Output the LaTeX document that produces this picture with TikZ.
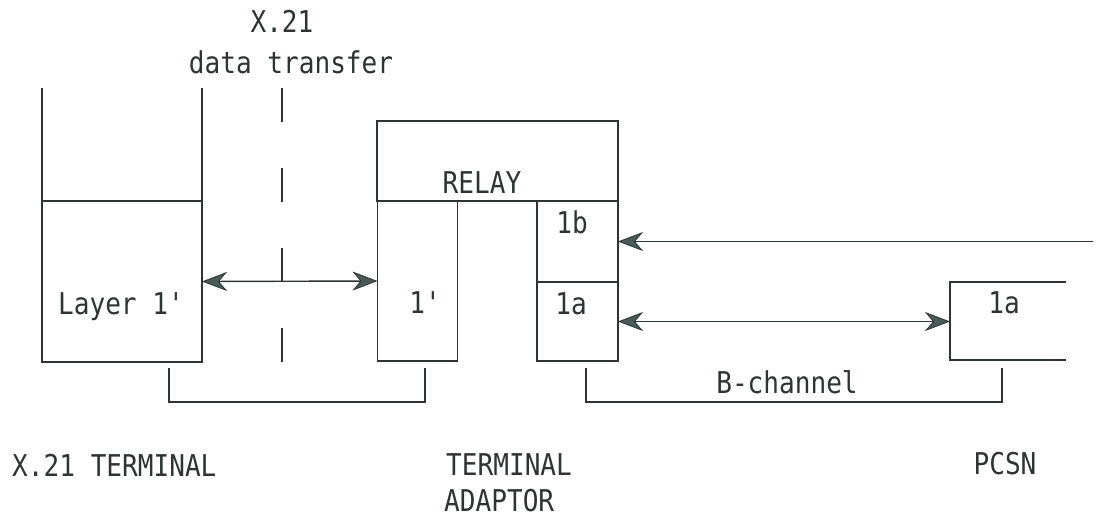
\documentclass[tikz,border=0pt]{standalone}
\usepackage{fontspec}
\setmonofont[FakeStretch=0.87]{DejaVu Sans Mono}
\usetikzlibrary{arrows.meta}

\definecolor{ink}{RGB}{45,52,50}
\definecolor{tipfill}{RGB}{74,90,86}

\tikzset{
  >={Stealth[length=25pt, width=19pt, inset=8pt, fill=tipfill, line width=0.8pt]},
  wire/.style={draw=ink, line width=1.8pt},
  blk/.style={wire, rectangle, inner sep=0pt, outer sep=0pt},
  lbl/.style={font=\ttfamily\fontsize{30}{36}\selectfont, text=ink, inner sep=0pt, text depth=0pt, anchor=base},
  biarrow/.style={draw=ink, line width=1.4pt, <->},
  onearrow/.style={draw=ink, line width=1.4pt, ->}
}

\begin{document}
\begin{tikzpicture}[x=1pt, y=-1pt]
\useasboundingbox (0,0) rectangle (1109,517);

% X.21 terminal: open at the top
\node[blk, minimum width=160pt, minimum height=161pt] (lyr) at (122,281.5) {};
\coordinate (lyr-tl) at (42,88);
\coordinate (lyr-tr) at (202,88);
\draw[wire] (lyr.north west) -- (lyr-tl);
\draw[wire] (lyr.north east) -- (lyr-tr);
\node[lbl] (lyrtxt) at (121,314) {Layer 1'};

% interface divider
\coordinate (dv-top) at (282,88);
\coordinate (dv-bot) at (282,362);
\draw[wire, line width=1.4pt, dash pattern=on 34pt off 46pt] (dv-top) -- (dv-bot);
\node[lbl] (x21) at (282,32) {X.21};
\node[lbl] (xfer) at (291,73) {data transfer};

% terminal adaptor
\node[blk, minimum width=241pt, minimum height=80pt] (relay) at (497.5,161) {};
\node[lbl] (relaytxt) at (482,193) {RELAY};
\node[blk, minimum width=80pt, minimum height=160pt] (ta1) at (417.5,281) {};
\node[lbl] (ta1txt) at (425,313) {1'};
\node[blk, minimum width=81pt, minimum height=81pt] (ta1b) at (577.5,241.5) {};
\node[lbl] (ta1btxt) at (572,233) {1b};
\node[blk, minimum width=81pt, minimum height=79pt] (ta1a) at (577.5,321.5) {};
\node[lbl] (ta1atxt) at (571,314) {1a};

% PCSN side: open to the right
\coordinate (pc-tr) at (1066,282);
\coordinate (pc-tl) at (950,282);
\coordinate (pc-bl) at (950,360);
\coordinate (pc-br) at (1066,360);
\coordinate (pc-in) at (950,321.5);
\draw[wire] (pc-tr) -- (pc-tl) -- (pc-bl) -- (pc-br);
\node[lbl] (pc1atxt) at (1004,313) {1a};
\coordinate (line-in) at (1093,241.5);

% flows
\draw[biarrow] (lyr.east) -- (ta1.west);
\draw[onearrow] (line-in) -- (ta1b.east);
\draw[biarrow] (ta1a.east) -- (pc-in);

% brackets
\coordinate (br1-l) at (169,368);
\coordinate (br1-r) at (425,368);
\coordinate (br2-l) at (586,368);
\coordinate (br2-r) at (1002,368);
\draw[wire] (br1-l) -- ++(0,34) -| (br1-r);
\draw[wire] (br2-l) -- ++(0,34) -| (br2-r);
\node[lbl] (bchan) at (787,393) {B-channel};

% equipment names
\node[lbl, anchor=base west] (term) at (12,476) {X.21 TERMINAL};
\node[lbl, anchor=base west] (tadapt1) at (446,475) {TERMINAL};
\node[lbl, anchor=base west] (tadapt2) at (444,511) {ADAPTOR};
\node[lbl] (pcsn) at (1005,474) {PCSN};
\end{tikzpicture}
\end{document}
